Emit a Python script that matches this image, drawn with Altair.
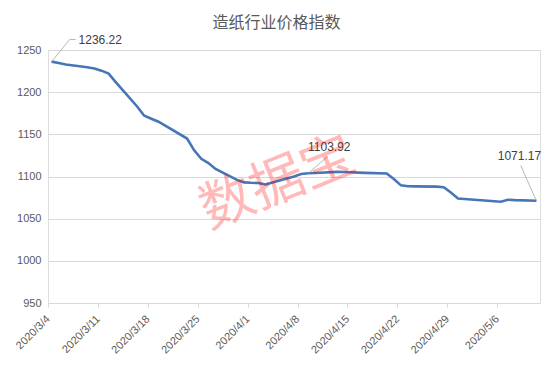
import altair as alt
import pandas as pd

# ---- data ----
dates = [
    "2020-03-04", "2020-03-05", "2020-03-06", "2020-03-09", "2020-03-10",
    "2020-03-11", "2020-03-12", "2020-03-13", "2020-03-16", "2020-03-17",
    "2020-03-18", "2020-03-19", "2020-03-20", "2020-03-23", "2020-03-24",
    "2020-03-25", "2020-03-26", "2020-03-27", "2020-03-30", "2020-03-31",
    "2020-04-01", "2020-04-02", "2020-04-03", "2020-04-07", "2020-04-08",
    "2020-04-09", "2020-04-10", "2020-04-13", "2020-04-14", "2020-04-15",
    "2020-04-16", "2020-04-17", "2020-04-20", "2020-04-21", "2020-04-22",
    "2020-04-23", "2020-04-24", "2020-04-27", "2020-04-28", "2020-04-29",
    "2020-04-30", "2020-05-06", "2020-05-07", "2020-05-08", "2020-05-11",
]
values = [
    1236.22, 1234.5, 1232.8, 1229.6, 1228.0,
    1225.5, 1222.0, 1212.0, 1183.0, 1172.0,
    1168.5, 1165.0, 1160.0, 1145.0, 1131.0,
    1121.0, 1116.0, 1109.0, 1096.0, 1093.0,
    1092.5, 1092.3, 1090.5, 1100.0, 1103.0,
    1103.92, 1104.2, 1105.5, 1105.3, 1105.0,
    1104.6, 1104.3, 1103.5, 1097.0, 1089.5,
    1088.5, 1088.3, 1088.0, 1087.3, 1081.0,
    1074.0, 1070.0, 1072.5, 1072.0, 1071.17,
]
tick_dates = ["2020-03-04", "2020-03-11", "2020-03-18", "2020-03-25", "2020-04-01",
              "2020-04-08", "2020-04-15", "2020-04-22", "2020-04-29", "2020-05-06"]
y_ticks = [950, 1000, 1050, 1100, 1150, 1200, 1250]
title_text = "造纸行业价格指数"
watermark = "数据宝"
label_dates = ["2020-03-04", "2020-04-09", "2020-05-11"]

# ---- build table (points sit in the middle of each day slot) ----
df = pd.DataFrame({"date": [d + "T12:00:00Z" for d in dates], "value": values})
lookup = dict(zip(dates, values))


def dt(s):
    y, m, d = (int(p) for p in s.split("-"))
    return alt.DateTime(year=y, month=m, date=d, utc=True)


FONT = "Liberation Sans"
GRID = "#d9d9d9"
TXT = "#595959"

x_enc = alt.X(
    "date:T",
    scale=alt.Scale(type="utc", domain=[dt("2020-03-04"), dt("2020-05-12")], nice=False),
    axis=alt.Axis(
        values=[dt(t) for t in tick_dates],
        labelExpr="utcFormat(datum.value, '%Y/%-m/%-d')",
        labelAngle=-45, labelAlign="right", labelBaseline="middle",
        labelPadding=10, tickSize=4, tickColor=GRID, domainColor=GRID,
        grid=False, labelFont=FONT, labelFontSize=11, labelColor=TXT,
        title=None, labelOverlap=False,
    ),
)
y_enc = alt.Y(
    "value:Q",
    scale=alt.Scale(domain=[950, 1250], nice=False, zero=False),
    axis=alt.Axis(
        values=y_ticks, format="d", grid=True, gridColor=GRID, ticks=False, domain=False,
        labelPadding=7, labelFont=FONT, labelFontSize=11, labelColor=TXT, title=None,
    ),
)

line = alt.Chart(df).mark_line(color="#4676b8", strokeWidth=2.6).encode(x=x_enc, y=y_enc)

layers = [line]

# annotation labels + leader lines
ann_specs = [
    # (label date, text dx, text dy, text align, leader end x, leader end y) in pixels
    (label_dates[0], 27, -22, "left", 21.7, -10.5),
    (label_dates[1], 21, -26, "center", 279.7, 106.5),
    (label_dates[2], -17, -44.5, "center", 472.7, 115.5),
]
for d, dx, dy, al, lx, ly in ann_specs:
    v = lookup[d]
    adf = pd.DataFrame({"date": [d + "T12:00:00Z"], "value": [v], "label": [f"{v:.2f}"]})
    base = alt.Chart(adf)
    layers.append(
        base.mark_rule(color="#a6a6a6", strokeWidth=0.8).encode(
            x="date:T", y="value:Q", x2=alt.value(lx), y2=alt.value(ly)
        )
    )
    layers.append(
        base.mark_text(
            dx=dx, dy=dy, align=al, baseline="middle",
            font=FONT, fontSize=12, color="#404040",
        ).encode(x="date:T", y="value:Q", text="label:N")
    )

# short horizontal tail of the first leader
tail = alt.Chart(pd.DataFrame({"k": [0]})).mark_rule(color="#a6a6a6", strokeWidth=0.8).encode(
    x=alt.value(21.7), x2=alt.value(27.7), y=alt.value(-10.5), y2=alt.value(-10.5)
)
layers.append(tail)

# chart title (as a text mark, placed above the plot area)
title = alt.Chart(pd.DataFrame({"t": [title_text]})).mark_text(
    font="Noto Sans CJK SC", fontSize=16, color=TXT, align="center", baseline="middle",
).encode(x=alt.value(228.5), y=alt.value(-27), text="t:N")
layers.append(title)

# watermark
wm = alt.Chart(pd.DataFrame({"t": [watermark]})).mark_text(
    font="Noto Sans CJK SC", fontSize=54, color="#ff0000", opacity=0.27,
    angle=338, align="center", baseline="middle",
).encode(x=alt.value(230), y=alt.value(134), text="t:N")
layers.append(wm)

chart = alt.layer(*layers).properties(
    width=492, height=253,
    autosize=alt.AutoSizeParams(type="none"),
    padding={"left": 40, "top": 42, "right": 5, "bottom": 60},
).configure_view(stroke=None).configure(background="white")

chart.save("out.html", embed_options={"renderer": "svg", "actions": False})
